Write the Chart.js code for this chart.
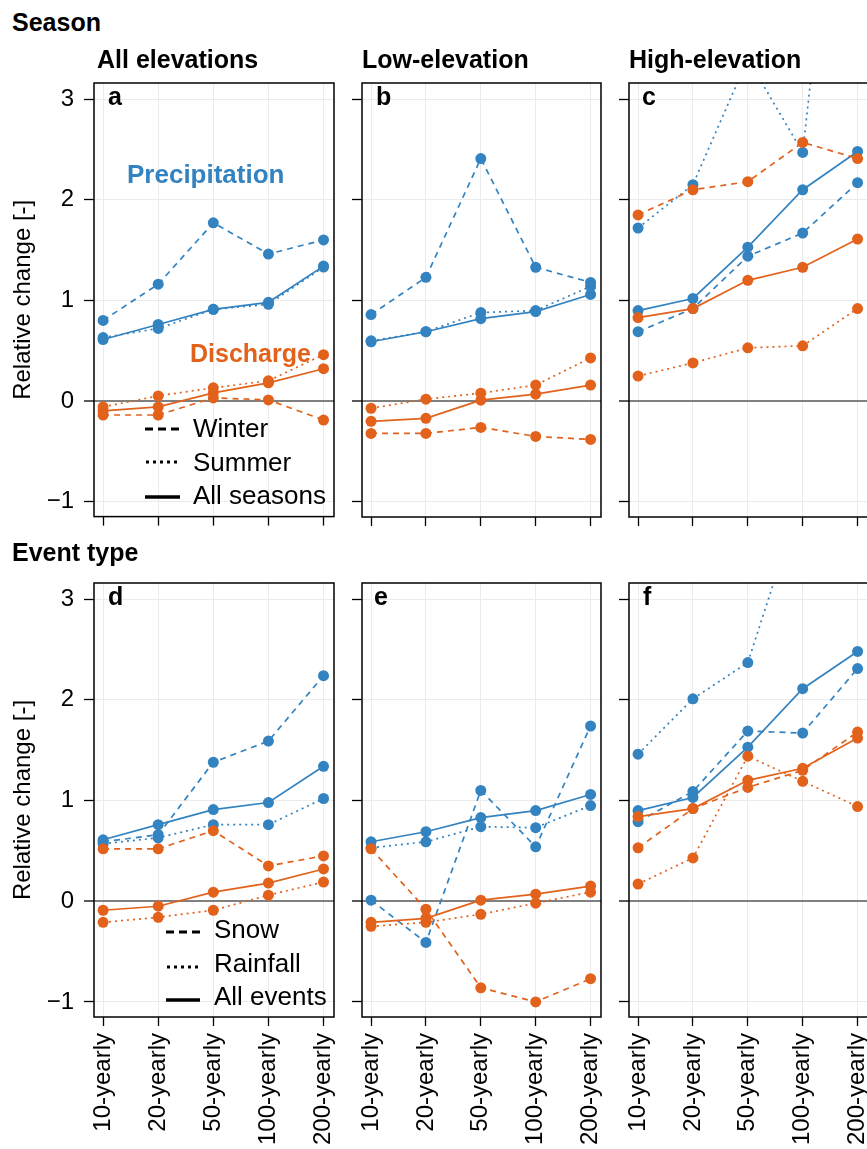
<!DOCTYPE html>
<html>
<head>
<meta charset="utf-8">
<script src="https://cdn.jsdelivr.net/npm/chart.js@4.4.1/dist/chart.umd.min.js"></script>
<style>
  body { margin: 0; width: 867px; height: 1149px; overflow: hidden; background: #fff; position: relative;
         font-family: "Liberation Sans", Arial, sans-serif; }
  canvas { position: absolute; z-index: 1; }
  .t { position: absolute; white-space: nowrap; line-height: 1; color: #000; z-index: 2; }
  .b { font-weight: bold; }
  svg { position: absolute; overflow: visible; z-index: 2; }
</style>
</head>
<body>

<div class="t b" style="left:12px;top:10px;font-size:25px">Season</div>
<div class="t b" style="left:97px;top:47px;font-size:25px">All elevations</div>
<div class="t b" style="left:362px;top:47px;font-size:25px">Low-elevation</div>
<div class="t b" style="left:629px;top:47px;font-size:25px">High-elevation</div>
<div class="t b" style="left:12px;top:540px;font-size:25px">Event type</div>

<div class="t b" style="left:108px;top:84px;font-size:25px">a</div>
<div class="t b" style="left:376px;top:84px;font-size:25px">b</div>
<div class="t b" style="left:642px;top:84px;font-size:25px">c</div>
<div class="t b" style="left:108px;top:584px;font-size:25px">d</div>
<div class="t b" style="left:374px;top:584px;font-size:25px">e</div>
<div class="t b" style="left:643px;top:584px;font-size:25px">f</div>

<div class="t b" style="left:127px;top:161px;font-size:26px;color:#3383c0">Precipitation</div>
<div class="t b" style="left:190px;top:341px;font-size:25px;color:#e2621b">Discharge</div>

<!-- legends -->
<svg style="left:0;top:0" width="1" height="1">
  <line x1="145" y1="429" x2="180" y2="429" stroke="#000" stroke-width="3" stroke-dasharray="8,5"/>
  <line x1="146" y1="462" x2="180" y2="462" stroke="#000" stroke-width="3" stroke-dasharray="3,4"/>
  <line x1="145" y1="497" x2="180" y2="497" stroke="#000" stroke-width="3.5"/>
  <line x1="166" y1="932" x2="200" y2="932" stroke="#000" stroke-width="3" stroke-dasharray="8,5"/>
  <line x1="167" y1="967" x2="200" y2="967" stroke="#000" stroke-width="3" stroke-dasharray="3,4"/>
  <line x1="166" y1="1000" x2="200" y2="1000" stroke="#000" stroke-width="3.5"/>
</svg>
<div class="t" style="left:193px;top:415px;font-size:26px">Winter</div>
<div class="t" style="left:193px;top:449px;font-size:26px">Summer</div>
<div class="t" style="left:193px;top:482px;font-size:26px">All seasons</div>
<div class="t" style="left:214px;top:916px;font-size:26px">Snow</div>
<div class="t" style="left:214px;top:950px;font-size:26px">Rainfall</div>
<div class="t" style="left:214px;top:983px;font-size:26px">All events</div>

<script>
// return periods on the x axis
const returnPeriods = ['10-yearly', '20-yearly', '50-yearly', '100-yearly', '200-yearly'];
const yTicks = [-1, 0, 1, 2, 3];

// a - season, all elevations
const aPrecWinter = [0.80, 1.16, 1.77, 1.46, 1.60];
const aPrecSummer = [0.63, 0.72, 0.91, 0.96, 1.33];
const aPrecAll    = [0.61, 0.76, 0.91, 0.98, 1.34];
const aDisWinter  = [-0.14, -0.14, 0.03, 0.01, -0.19];
const aDisSummer  = [-0.06, 0.05, 0.13, 0.20, 0.46];
const aDisAll     = [-0.10, -0.06, 0.08, 0.18, 0.32];

// b - season, low elevation
const bPrecWinter = [0.86, 1.23, 2.41, 1.33, 1.18];
const bPrecSummer = [0.60, 0.69, 0.88, 0.90, 1.14];
const bPrecAll    = [0.59, 0.69, 0.82, 0.89, 1.06];
const bDisWinter  = [-0.32, -0.32, -0.26, -0.35, -0.38];
const bDisSummer  = [-0.07, 0.02, 0.08, 0.16, 0.43];
const bDisAll     = [-0.20, -0.17, 0.01, 0.07, 0.16];

// c - season, high elevation
const cPrecWinter = [0.69, 0.92, 1.44, 1.67, 2.17];
const cPrecSummer = [1.72, 2.15, 3.40, 2.47, 7.40];
const cPrecAll    = [0.90, 1.02, 1.53, 2.10, 2.48];
const cDisWinter  = [1.85, 2.10, 2.18, 2.57, 2.41];
const cDisSummer  = [0.25, 0.38, 0.53, 0.55, 0.92];
const cDisAll     = [0.83, 0.92, 1.20, 1.33, 1.61];

// d - event type, all elevations
const dPrecSnow = [0.59, 0.66, 1.38, 1.59, 2.24];
const dPrecRain = [0.57, 0.63, 0.76, 0.76, 1.02];
const dPrecAll  = [0.61, 0.76, 0.91, 0.98, 1.34];
const dDisSnow  = [0.52, 0.52, 0.70, 0.35, 0.45];
const dDisRain  = [-0.21, -0.16, -0.09, 0.06, 0.19];
const dDisAll   = [-0.09, -0.05, 0.09, 0.18, 0.32];

// e - event type, low elevation
const ePrecSnow = [0.01, -0.41, 1.10, 0.54, 1.74];
const ePrecRain = [0.53, 0.59, 0.74, 0.73, 0.95];
const ePrecAll  = [0.59, 0.69, 0.83, 0.90, 1.06];
const eDisSnow  = [0.52, -0.08, -0.86, -1.00, -0.77];
const eDisRain  = [-0.25, -0.21, -0.13, -0.02, 0.09];
const eDisAll   = [-0.21, -0.17, 0.01, 0.07, 0.15];

// f - event type, high elevation
const fPrecSnow = [0.79, 1.09, 1.69, 1.67, 2.31];
const fPrecRain = [1.46, 2.01, 2.37, 4.05, 4.60];
const fPrecAll  = [0.90, 1.03, 1.53, 2.11, 2.48];
const fDisSnow  = [0.53, 0.92, 1.13, 1.30, 1.68];
const fDisRain  = [0.17, 0.43, 1.44, 1.19, 0.94];
const fDisAll   = [0.84, 0.92, 1.20, 1.32, 1.62];

const BLUE = '#3383c0';
const ORANGE = '#e2621b';
const DASH = [6, 5];
const DOT = [2, 4];

Chart.defaults.font.family = '"Liberation Sans", Arial, sans-serif';
Chart.defaults.color = '#000';

// black frame around each panel
const panelBox = {
  id: 'panelBox',
  afterDraw(chart) {
    const ctx = chart.ctx, a = chart.chartArea;
    ctx.save();
    ctx.strokeStyle = '#000';
    ctx.lineWidth = 1.5;
    ctx.strokeRect(a.left, a.top, a.right - a.left, a.bottom - a.top);
    ctx.restore();
  }
};

function series(values, color, dash) {
  return {
    data: values.map((v, i) => ({ x: i, y: v })),
    borderColor: color,
    backgroundColor: color,
    borderDash: dash,
    borderWidth: 1.7,
    pointRadius: 5.5,
    pointBorderWidth: 0,
    pointBackgroundColor: color,
    tension: 0
  };
}

function panelConfig(prec, dis, col, row) {
  let firstCol = col === 0;
  let lastRow = row === 1;
  return {
    type: 'line',
    data: {
      datasets: [
        series(dis[0], ORANGE, DASH), series(dis[1], ORANGE, DOT), series(dis[2], ORANGE, []),
        series(prec[0], BLUE, DASH), series(prec[1], BLUE, DOT), series(prec[2], BLUE, [])
      ]
    },
    options: {
      responsive: false,
      animation: false,
      events: [],
      layout: { padding: { top: 30, right: 40, left: 0, bottom: 0 } },
      plugins: { legend: { display: false }, tooltip: { enabled: false } },
      scales: {
        x: {
          type: 'linear', min: -0.165, max: 4.19,
          border: { display: false },
          grid: { color: '#ebebeb', lineWidth: 1, tickColor: '#000', tickLength: 9, tickWidth: 1.3 },
          afterBuildTicks: s => { s.ticks = returnPeriods.map((p, i) => ({ value: i })); },
          ticks: {
            display: lastRow, autoSkip: false, minRotation: 90, maxRotation: 90, padding: 7,
            font: { size: 24 }, color: '#000',
            callback: v => returnPeriods[v]
          },
          afterFit: s => { s.height = lastRow ? 150 : 24; }
        },
        y: {
          min: -1.15, max: 3.16,
          border: { display: false },
          grid: {
            color: c => (c.tick && c.tick.value === 0) ? '#808080' : '#ebebeb',
            lineWidth: c => (c.tick && c.tick.value === 0) ? 2 : 1,
            tickColor: '#000', tickLength: 10, tickWidth: 1.3
          },
          afterBuildTicks: s => { s.ticks = yTicks.map(v => ({ value: v })); },
          ticks: {
            display: firstCol, padding: 10, font: { size: 24 }, color: '#000',
            callback: v => v < 0 ? '\u2212' + Math.abs(v) : String(v)
          },
          title: { display: firstCol, text: 'Relative change [-]', font: { size: 24 }, color: '#000', padding: 0 },
          afterFit: s => { s.width = firstCol ? 85 : 10; }
        }
      }
    },
    plugins: [panelBox]
  };
}

const colLeft = [94, 362, 629];
const colWidth = [240, 239, 239];
const rowTop = [83, 583];
const panelHeight = 434;

// draw once to learn the margins, then place the chart area exactly
function addPanel(prec, dis, col, row) {
  let cv = document.createElement('canvas');
  cv.width = 600; cv.height = 800;
  document.body.appendChild(cv);
  let ch = new Chart(cv, panelConfig(prec, dis, col, row));
  let a = ch.chartArea;
  let ml = a.left, mt = a.top, mr = 600 - a.right, mb = 800 - a.bottom;
  ch.destroy();
  cv.width = Math.round(ml + colWidth[col] + mr);
  cv.height = Math.round(mt + panelHeight + mb);
  cv.style.width = cv.width + 'px';
  cv.style.height = cv.height + 'px';
  cv.style.left = (colLeft[col] - ml) + 'px';
  cv.style.top = (rowTop[row] - mt) + 'px';
  new Chart(cv, panelConfig(prec, dis, col, row));
}

addPanel([aPrecWinter, aPrecSummer, aPrecAll], [aDisWinter, aDisSummer, aDisAll], 0, 0);
addPanel([bPrecWinter, bPrecSummer, bPrecAll], [bDisWinter, bDisSummer, bDisAll], 1, 0);
addPanel([cPrecWinter, cPrecSummer, cPrecAll], [cDisWinter, cDisSummer, cDisAll], 2, 0);
addPanel([dPrecSnow, dPrecRain, dPrecAll], [dDisSnow, dDisRain, dDisAll], 0, 1);
addPanel([ePrecSnow, ePrecRain, ePrecAll], [eDisSnow, eDisRain, eDisAll], 1, 1);
addPanel([fPrecSnow, fPrecRain, fPrecAll], [fDisSnow, fDisRain, fDisAll], 2, 1);
</script>
</body>
</html>
